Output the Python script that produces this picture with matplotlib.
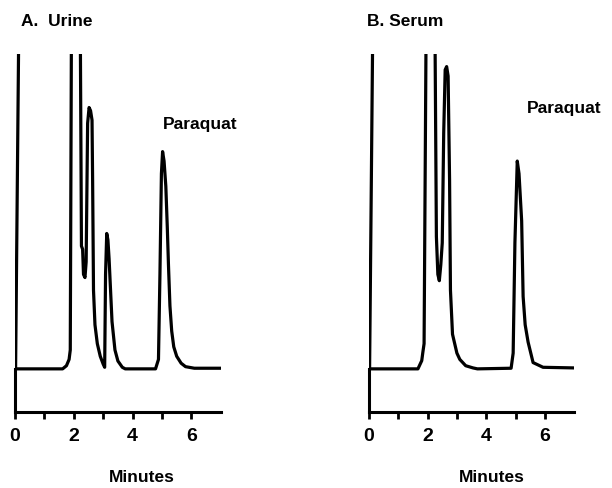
import matplotlib
matplotlib.use("Agg")
import matplotlib.pyplot as plt

# ---------------- data ----------------
# signal units: baseline = 0, top of frame = 100 (values > 100 are off scale)
urine_time = [0.13, 0.02, 1.62, 1.75, 1.84, 1.88, 1.92, 2.22, 2.26, 2.30, 2.33, 2.38,
              2.42, 2.47, 2.52, 2.57, 2.62, 2.64, 2.67, 2.72, 2.80, 2.90, 3.00, 3.05,
              3.08, 3.12, 3.16, 3.20, 3.25, 3.30, 3.40, 3.50, 3.65, 3.75, 4.78, 4.88,
              4.93, 4.98, 5.02, 5.07, 5.13, 5.18, 5.22, 5.27, 5.33, 5.40, 5.50, 5.65,
              5.80, 6.10, 7.00]
urine_signal = [110, 0, 0, 1, 3, 6, 110, 110, 39, 38, 30, 29,
                34, 78, 83, 82, 79, 60, 25, 14, 8, 4, 1.5, 0.5,
                30, 43, 41, 35, 25, 15, 6, 2.5, 0.5, 0, 0, 3,
                30, 62, 69, 66, 58, 45, 33, 20, 12, 7, 4, 1.8,
                0.7, 0.2, 0.2]

serum_time = [0.13, 0.02, 1.67, 1.80, 1.84, 1.88, 1.95, 2.25, 2.30, 2.35, 2.40, 2.45,
              2.50, 2.55, 2.60, 2.65, 2.70, 2.75, 2.78, 2.85, 3.00, 3.10, 3.30, 3.55,
              3.70, 4.85, 4.92, 4.98, 5.06, 5.12, 5.21, 5.26, 5.33, 5.43, 5.60, 5.94,
              7.00]
serum_signal = [110, 0, 0, 2.6, 5.4, 8, 110, 110, 42, 30, 28, 33,
                40, 75, 95, 96, 93, 60, 25, 11, 5, 3, 1, 0.3,
                0, 0.2, 5, 40, 66, 62, 47, 23, 14, 8.5, 2, 0.5,
                0.3]

x_ticks = [0, 1, 2, 3, 4, 5, 6]
x_tick_labels = ["0", "", "2", "", "4", "", "6"]
panel_titles = ["A.  Urine", "B. Serum"]
peak_label = "Paraquat"
x_label = "Minutes"

# ---------------- style ----------------
plt.rcParams["font.family"] = ["Liberation Sans", "DejaVu Sans"]
plt.rcParams["font.weight"] = "bold"

W, H = 612, 489
fig = plt.figure(figsize=(W / 100, H / 100), dpi=100)

YMIN, YMAX = -13.7, 100.0
panels = [
    # left px, px per minute, time, signal, title pos, paraquat pos, minutes x
    (15, 29.4, urine_time, urine_signal, (0.2, 110.6), (5.03, 78.0), 4.3),
    (369, 29.3, serum_time, serum_signal, (-0.07, 110.5), (5.4, 83.0), 4.2),
]
fs_tick = 14
fs_text = 12.5

for i, (lp, ppm, t, s, tpos, ppos, mx) in enumerate(panels):
    width_px = 7.0 * ppm
    ax = fig.add_axes([lp / W, (H - 413) / H, width_px / W, (413 - 55) / H])
    ax.plot(t, s, color="black", lw=2.3, solid_joinstyle="round")
    ax.set_xlim(0, 7.0)
    ax.set_ylim(YMIN, YMAX)
    for sp in ["top", "right"]:
        ax.spines[sp].set_visible(False)
    ax.spines["left"].set_bounds(YMIN, 0)
    ax.spines["left"].set_linewidth(2.2)
    ax.spines["bottom"].set_linewidth(2.2)
    ax.set_yticks([])
    ax.set_xticks(x_ticks)
    ax.set_xticklabels(x_tick_labels, fontsize=fs_tick, fontweight="bold")
    ax.tick_params(axis="x", direction="out", length=5, width=2, pad=6)
    ax.text(tpos[0], tpos[1], panel_titles[i], fontsize=fs_text, fontweight="bold",
            ha="left", va="center", clip_on=False)
    ax.text(ppos[0], ppos[1], peak_label, fontsize=fs_text, fontweight="bold",
            ha="left", va="center", clip_on=False)
    ax.text(mx, -34.3, x_label, fontsize=fs_text, fontweight="bold",
            ha="center", va="center", clip_on=False)
    ax.patch.set_alpha(0)

fig.savefig("out.png", dpi=100)
